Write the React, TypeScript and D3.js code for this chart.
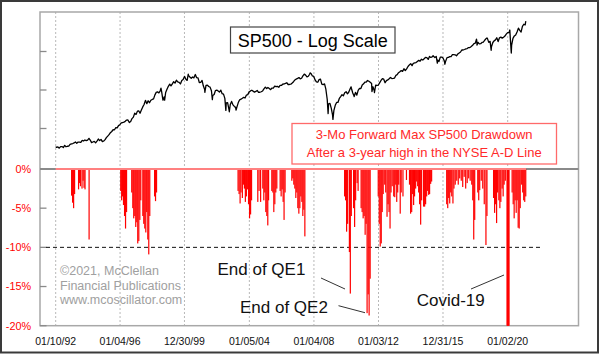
import { useEffect, useRef } from 'react';
import * as d3 from 'd3';

const tickDates = ["1992-01-10", "1996-01-04", "1999-12-30", "2004-01-05", "2008-01-04", "2012-01-03", "2015-12-31", "2020-01-02"];
const pctTicks = [0, -5, -10, -15, -20];
const logTicks = [575, 1150, 2300];

// SP500 month-end closes, Jan 1992 .. Jan 2021
const spxMonthly = [
	408.8, 412.7, 403.7, 414.9, 415.4, 408.1, 424.2, 414.0, 417.8, 418.7, 431.4, 435.7,
	438.8, 443.4, 451.7, 440.2, 450.2, 450.5, 448.1, 463.6, 458.9, 467.8, 461.8, 466.5,
	481.6, 467.1, 445.8, 450.9, 456.5, 444.3, 458.3, 475.5, 462.7, 472.4, 453.7, 459.3,
	470.4, 487.4, 500.7, 514.7, 533.4, 544.8, 562.1, 561.9, 584.4, 581.5, 605.4, 615.9,
	636.0, 640.4, 645.5, 654.2, 669.1, 670.6, 639.9, 652.0, 687.3, 705.3, 757.0, 740.7,
	786.2, 790.8, 757.1, 801.3, 848.3, 885.1, 954.3, 899.5, 947.3, 914.6, 955.4, 970.4,
	980.3, 1049.3, 1101.8, 1111.8, 1090.8, 1133.8, 1120.7, 957.3, 1017.0, 1098.7, 1163.6, 1229.2,
	1279.6, 1238.3, 1286.4, 1335.2, 1301.8, 1372.7, 1328.7, 1320.4, 1282.7, 1362.9, 1388.9, 1469.3,
	1394.5, 1366.4, 1498.6, 1452.4, 1420.6, 1454.6, 1430.8, 1517.7, 1436.5, 1429.4, 1315.2, 1320.3,
	1366.0, 1239.9, 1160.3, 1249.5, 1255.8, 1224.4, 1211.2, 1133.6, 1040.9, 1059.8, 1139.5, 1148.1,
	1130.2, 1106.7, 1147.4, 1076.9, 1067.1, 989.8, 911.6, 916.1, 815.3, 885.8, 936.3, 879.8,
	855.7, 841.2, 848.2, 916.9, 963.6, 974.5, 990.3, 1008.0, 996.0, 1050.7, 1058.2, 1111.9,
	1131.1, 1144.9, 1126.2, 1107.3, 1120.7, 1140.8, 1101.7, 1104.2, 1114.6, 1130.2, 1173.8, 1211.9,
	1181.3, 1203.6, 1180.6, 1156.9, 1191.5, 1191.3, 1234.2, 1220.3, 1228.8, 1207.0, 1249.5, 1248.3,
	1280.1, 1280.7, 1294.9, 1310.6, 1270.1, 1270.2, 1276.7, 1303.8, 1335.9, 1377.9, 1400.6, 1418.3,
	1438.2, 1406.8, 1420.9, 1482.4, 1530.6, 1503.4, 1455.3, 1474.0, 1526.8, 1549.4, 1481.1, 1468.4,
	1378.6, 1330.6, 1322.7, 1385.6, 1400.4, 1280.0, 1267.4, 1282.8, 1166.4, 968.8, 896.2, 903.3,
	825.9, 735.1, 797.9, 872.8, 919.1, 919.3, 987.5, 1020.6, 1057.1, 1036.2, 1095.6, 1115.1,
	1073.9, 1104.5, 1169.4, 1186.7, 1089.4, 1030.7, 1101.6, 1049.3, 1141.2, 1183.3, 1180.6, 1257.6,
	1286.1, 1327.2, 1325.8, 1363.6, 1345.2, 1320.6, 1292.3, 1218.9, 1131.4, 1253.3, 1247.0, 1257.6,
	1312.4, 1365.7, 1408.5, 1397.9, 1310.3, 1362.2, 1379.3, 1406.6, 1440.7, 1412.2, 1416.2, 1426.2,
	1498.1, 1514.7, 1569.2, 1597.6, 1630.7, 1606.3, 1685.7, 1633.0, 1681.6, 1756.5, 1805.8, 1848.4,
	1782.6, 1859.5, 1872.3, 1883.9, 1923.6, 1960.2, 1930.7, 2003.4, 1972.3, 2018.1, 2067.6, 2058.9,
	1995.0, 2104.5, 2067.9, 2085.5, 2107.4, 2063.1, 2103.8, 1972.2, 1920.0, 2079.4, 2080.4, 2043.9,
	1940.2, 1932.2, 2059.7, 2065.3, 2096.9, 2098.9, 2173.6, 2171.0, 2168.3, 2126.2, 2198.8, 2238.8,
	2278.9, 2363.6, 2362.7, 2384.2, 2411.8, 2423.4, 2470.3, 2471.7, 2519.4, 2575.3, 2647.6, 2673.6,
	2823.8, 2713.8, 2640.9, 2648.1, 2705.3, 2718.4, 2816.3, 2901.5, 2914.0, 2711.7, 2760.2, 2506.9,
	2704.1, 2784.5, 2834.4, 2945.8, 2752.1, 2941.8, 2980.4, 2926.5, 2976.7, 3037.6, 3141.0, 3230.8,
	3225.5, 2954.2, 2584.6, 2912.4, 3044.3, 3100.3, 3271.1, 3500.3, 3363.0, 3270.0, 3621.6, 3756.1,
	3714.2,
];

// intra-month highs and lows visible on the line
const spxExtra: [string, number][] = [
	["1992-01-10", 415], ["1998-07-17", 1187], ["1998-10-08", 959], ["2000-03-24", 1527],
	["2000-09-01", 1520], ["2001-04-04", 1103], ["2001-09-21", 966], ["2002-07-23", 797],
	["2002-10-09", 777], ["2003-03-11", 800], ["2007-10-09", 1565], ["2008-11-20", 752],
	["2009-03-09", 677], ["2010-04-23", 1217], ["2010-07-02", 1022], ["2011-04-29", 1364],
	["2011-08-08", 1119], ["2011-10-03", 1099], ["2015-05-21", 2131], ["2015-08-25", 1867],
	["2016-02-11", 1829], ["2018-01-26", 2873], ["2018-02-08", 2581], ["2018-09-20", 2931],
	["2018-12-24", 2351], ["2020-02-19", 3386], ["2020-03-23", 2237], ["2021-02-12", 3934],
	["2021-02-19", 3906],
];

// 3-month forward max drawdown (%) after NYSE A-D line 3-year highs
const drawdowns: [string, number][] = [
	["1993-01-04", -3.4], ["1993-01-26", -4.3], ["1993-02-18", -5.0], ["1993-03-12", -3.2],
	["1993-06-10", -2.6], ["1993-07-01", -1.8], ["1993-07-23", -2.2], ["1993-08-27", -2.5],
	["1993-09-20", -1.5], ["1993-10-12", -2.4], ["1993-11-03", -2.6], ["1994-02-03", -9.0],
	["1996-01-19", -2.8], ["1996-02-09", -4.0], ["1996-03-01", -3.5], ["1996-03-22", -4.6],
	["1996-04-15", -6.0], ["1996-05-07", -7.6], ["1996-05-30", -5.5],
	["1996-09-24", -3.0], ["1996-10-18", -5.0], ["1996-11-08", -6.3], ["1996-12-02", -6.0],
	["1996-12-24", -7.4], ["1997-01-16", -6.8], ["1997-02-07", -9.5], ["1997-03-03", -9.2],
	["1997-03-26", -6.5], ["1997-04-17", -4.0],
	["1997-06-02", -6.0], ["1997-06-23", -7.0], ["1997-07-16", -7.6], ["1997-08-08", -8.1],
	["1997-08-29", -5.5], ["1997-09-22", -9.0], ["1997-10-14", -10.9], ["1997-11-06", -6.0],
	["1998-02-23", -3.5], ["1998-03-16", -4.1], ["1998-04-08", -3.0],
	["2003-04-25", -2.8], ["2003-05-18", -3.2], ["2003-06-10", -4.4], ["2003-07-01", -3.0],
	["2003-07-31", -3.7], ["2003-08-23", -2.0], ["2003-09-15", -2.5], ["2003-10-07", -4.2],
	["2003-10-30", -3.5], ["2003-11-21", -2.6], ["2003-12-18", -4.5], ["2004-01-10", -6.3],
	["2004-02-02", -5.8], ["2004-02-24", -4.0],
	["2004-07-14", -4.2], ["2004-08-12", -2.8], ["2004-09-16", -4.2],
	["2004-11-04", -2.5], ["2004-11-27", -4.0], ["2004-12-19", -3.0], ["2005-01-11", -5.5],
	["2005-02-03", -6.0], ["2005-02-25", -7.2], ["2005-03-15", -4.0],
	["2005-05-27", -2.8], ["2005-06-19", -3.0], ["2005-07-11", -5.5], ["2005-08-03", -4.5],
	["2005-08-25", -3.0], ["2005-09-17", -2.5],
	["2005-12-01", -2.8], ["2005-12-24", -3.5], ["2006-01-16", -2.6], ["2006-02-07", -4.2],
	["2006-02-28", -6.5], ["2006-03-23", -3.0],
	["2006-08-22", -1.5], ["2006-09-14", -1.2], ["2006-10-06", -2.0], ["2006-10-29", -2.5],
	["2006-11-21", -3.7], ["2006-12-13", -3.0], ["2007-01-05", -5.0], ["2007-01-28", -5.7],
	["2007-02-20", -5.0], ["2007-03-14", -3.5], ["2007-04-06", -4.2], ["2007-04-28", -6.0],
	["2007-05-21", -5.2], ["2007-06-13", -8.6],
	["2009-11-28", -3.5], ["2009-12-20", -4.0], ["2010-01-12", -8.0], ["2010-02-04", -7.0],
	["2010-03-16", -10.6], ["2010-04-06", -15.9], ["2010-04-28", -6.0],
	["2010-06-19", -5.0], ["2010-07-12", -7.4], ["2010-08-04", -4.0], ["2010-09-07", -1.8],
	["2010-09-29", -2.8],
	["2010-12-06", -5.0], ["2010-12-29", -5.5], ["2011-01-21", -6.3], ["2011-02-12", -6.0],
	["2011-03-07", -8.4], ["2011-03-29", -7.0], ["2011-04-20", -18.4], ["2011-05-14", -16.0],
	["2011-06-05", -18.7], ["2011-06-28", -14.0],
	["2011-12-28", -3.5], ["2012-01-20", -7.0], ["2012-02-11", -9.9], ["2012-03-05", -9.5],
	["2012-03-27", -5.5], ["2012-04-18", -3.2], ["2012-05-23", -2.0], ["2012-06-15", -3.0],
	["2012-07-14", -6.1], ["2012-08-06", -4.5], ["2012-08-28", -5.5], ["2012-09-20", -7.6],
	["2012-10-12", -3.0], ["2012-11-08", -2.2], ["2012-12-12", -3.5], ["2013-01-04", -3.6],
	["2013-01-27", -2.0], ["2013-02-18", -4.2], ["2013-03-12", -3.0], ["2013-04-04", -2.0],
	["2013-05-08", -5.7], ["2013-05-30", -3.0], ["2013-07-09", -3.5], ["2013-09-26", -1.4],
	["2013-12-04", -2.0], ["2013-12-29", -5.7], ["2014-01-22", -5.5], ["2014-02-13", -3.2],
	["2014-03-07", -4.6], ["2014-03-28", -3.5], ["2014-04-22", -2.5], ["2014-05-15", -1.6],
	["2014-06-07", -2.2], ["2014-06-29", -3.0], ["2014-07-20", -4.5], ["2014-08-13", -7.1],
	["2014-09-04", -4.0], ["2014-10-19", -4.8], ["2014-11-11", -4.8], ["2014-12-03", -4.5],
	["2014-12-27", -3.5], ["2015-01-18", -2.8], ["2015-02-10", -3.3], ["2015-03-03", -3.2],
	["2015-03-27", -1.9], ["2015-04-18", -1.6],
	["2016-03-24", -4.5], ["2016-04-16", -5.0], ["2016-05-08", -3.7], ["2016-05-31", -4.4],
	["2016-06-23", -3.0], ["2016-07-16", -3.5], ["2016-08-12", -4.4], ["2016-09-04", -2.5],
	["2016-10-03", -2.0], ["2016-11-06", -1.5], ["2016-12-10", -2.0], ["2017-01-12", -1.2],
	["2017-02-16", -1.5], ["2017-03-21", -2.3], ["2017-04-23", -1.0], ["2017-05-27", -2.5],
	["2017-06-30", -1.8], ["2017-08-03", -1.2], ["2017-09-06", -1.5], ["2017-10-11", -2.0],
	["2017-11-03", -4.0], ["2017-11-25", -9.0], ["2017-12-17", -6.5],
	["2018-02-24", -3.0], ["2018-03-18", -4.0], ["2018-04-09", -2.7], ["2018-05-14", -1.5],
	["2018-06-17", -2.5], ["2018-07-21", -4.5], ["2018-08-28", -9.7], ["2018-09-20", -6.0],
	["2019-02-17", -3.7], ["2019-03-12", -5.6], ["2019-04-04", -4.5], ["2019-04-26", -6.9],
	["2019-05-19", -3.0], ["2019-06-16", -4.0], ["2019-07-09", -5.0], ["2019-07-31", -4.2],
	["2019-08-29", -2.5], ["2019-09-21", -3.5], ["2019-10-13", -2.0], ["2019-11-09", -1.5],
	["2019-12-18", -33.9], ["2019-12-30", -33.9], ["2020-01-10", -33.9], ["2020-01-21", -33.9],
	["2020-01-31", -33.9],
	["2020-04-11", -3.0], ["2020-05-05", -4.5], ["2020-05-27", -6.3], ["2020-06-19", -4.0],
	["2020-07-12", -5.6], ["2020-08-03", -4.0], ["2020-08-26", -7.5], ["2020-09-18", -7.6],
	["2020-10-11", -5.0], ["2020-11-13", -2.0], ["2020-12-06", -3.0], ["2020-12-29", -4.0],
	["2021-01-21", -4.2], ["2021-02-13", -3.5],
];

const seriesStart = "1992-01-10";
const seriesEnd = "2021-02-19";

const font = "'Liberation Sans', Arial, sans-serif";

export default function App() {
	const ref = useRef<SVGSVGElement>(null);

	useEffect(() => {
		const svg = d3.select(ref.current);
		svg.selectAll("*").remove();

		const parse = d3.timeParse("%Y-%m-%d");
		const fmt = d3.timeFormat("%m/%d/%y");
		const left = 40, right = 578.5, top = 12, bottom = 325.7;

		const x = d3.scaleTime()
			// @ts-ignore
			.domain([parse(tickDates[0]), parse(tickDates[tickDates.length - 1])])
			.range([55.7, 507.7]);

		const yLog = d3.scaleLog()
			.domain([logTicks[0], logTicks[2]])
			.range([128.5, 51.5]);

		const yPct = d3.scaleLinear()
			.domain([-20, 0])
			.range([bottom, 169])
			.clamp(true);

		const spx = spxMonthly.map((v, i) => ({
			date: d3.timeDay.offset(new Date(1992, i + 1, 1), -1),
			value: v
		}));
		// @ts-ignore
		spxExtra.forEach(d => spx.push({date: parse(d[0]), value: d[1]}));
		spx.sort((a, b) => +a.date - +b.date);

		// outer frame
		svg.append("rect")
			.attr("x", 1).attr("y", 1)
			.attr("width", 597).attr("height", 351.5)
			.attr("fill", "#fff")
			.attr("stroke", "#3a3a3a")
			.attr("stroke-width", 2);

		// grid
		svg.append("g")
			.selectAll("line")
			.data(tickDates)
			.join("line")
			// @ts-ignore
			.attr("x1", d => x(parse(d)))
			// @ts-ignore
			.attr("x2", d => x(parse(d)))
			.attr("y1", top)
			.attr("y2", bottom)
			.attr("stroke", "#b8b8b8")
			.attr("stroke-dasharray", "2,2");

		// plot frame
		svg.append("rect")
			.attr("x", left).attr("y", top)
			.attr("width", right - left).attr("height", bottom - top)
			.attr("fill", "none")
			.attr("stroke", "#a8a8a8")
			.attr("stroke-width", 1.5);

		svg.append("line")
			.attr("x1", left).attr("x2", right)
			.attr("y1", yPct(0)).attr("y2", yPct(0))
			.attr("stroke", "#8a8a8a")
			.attr("stroke-width", 2);

		// y ticks (inside)
		svg.append("g")
			.selectAll("line")
			.data(pctTicks)
			.join("line")
			.attr("x1", left).attr("x2", left + 6.5)
			.attr("y1", d => yPct(d)).attr("y2", d => yPct(d))
			.attr("stroke", "#8a8a8a")
			.attr("stroke-width", 1.3);

		svg.append("g")
			.selectAll("line")
			.data(logTicks)
			.join("line")
			.attr("x1", left).attr("x2", left + 6.5)
			.attr("y1", d => yLog(d)).attr("y2", d => yLog(d))
			.attr("stroke", "#8a8a8a")
			.attr("stroke-width", 1.3);

		svg.append("g")
			.selectAll("text")
			.data(pctTicks)
			.join("text")
			.attr("x", 31)
			.attr("y", d => yPct(d))
			.attr("dy", "0.36em")
			.attr("text-anchor", "end")
			.attr("font-family", font)
			.attr("font-size", 10.8)
			.attr("fill", "#ff0000")
			.text(d => d + "%");

		svg.append("g")
			.selectAll("text")
			.data(tickDates)
			.join("text")
			// @ts-ignore
			.attr("x", d => x(parse(d)))
			.attr("y", 345)
			.attr("text-anchor", "middle")
			.attr("font-family", font)
			.attr("font-size", 10.5)
			.attr("fill", "#111")
			// @ts-ignore
			.text(d => fmt(parse(d)));

		// -10% reference line
		svg.append("line")
			.attr("x1", 46).attr("x2", 543)
			.attr("y1", yPct(-10)).attr("y2", yPct(-10))
			.attr("stroke", "#111")
			.attr("stroke-dasharray", "4,3");

		// drawdown bars
		svg.append("g")
			.attr("fill", "#ff0000")
			.selectAll("rect")
			.data(drawdowns)
			.join("rect")
			// @ts-ignore
			.attr("x", d => x(parse(d[0])) - 0.6)
			.attr("y", yPct(0))
			.attr("width", 1.2)
			.attr("height", d => yPct(d[1]) - yPct(0));

		svg.append("line")
			// @ts-ignore
			.attr("x1", x(parse(seriesStart)))
			// @ts-ignore
			.attr("x2", x(parse(seriesEnd)))
			.attr("y1", yPct(0)).attr("y2", yPct(0))
			.attr("stroke", "#ff8080")
			.attr("stroke-width", 2);

		// SP500 line
		const line = d3.line()
			// @ts-ignore
			.x(d => x(d.date))
			// @ts-ignore
			.y(d => yLog(d.value));

		svg.append("path")
			// @ts-ignore
			.attr("d", line(spx))
			.attr("fill", "none")
			.attr("stroke", "#000")
			.attr("stroke-width", 1.3)
			.attr("stroke-linejoin", "round");

		// title box
		svg.append("rect")
			.attr("x", 230.5).attr("y", 27)
			.attr("width", 164.5).attr("height", 26)
			.attr("fill", "#fff")
			.attr("stroke", "#444")
			.attr("stroke-width", 1.2);
		svg.append("text")
			.attr("x", 312.7).attr("y", 46.5)
			.attr("text-anchor", "middle")
			.attr("font-family", font)
			.attr("font-size", 18)
			.text("SP500 - Log Scale");

		// red legend box
		svg.append("rect")
			.attr("x", 292).attr("y", 123.5)
			.attr("width", 264.5).attr("height", 40.5)
			.attr("fill", "#fff")
			.attr("stroke", "#ff6a6a")
			.attr("stroke-width", 1.3);
		svg.append("g")
			.selectAll("text")
			.data(["3-Mo Forward Max SP500 Drawdown", "After a 3-year high in the NYSE A-D Line"])
			.join("text")
			.attr("x", 424.2)
			.attr("y", (d, i) => 138.8 + i * 18.2)
			.attr("text-anchor", "middle")
			.attr("font-family", font)
			.attr("font-size", 13)
			.attr("fill", "#ff2a2a")
			.text(d => d);

		// copyright
		svg.append("g")
			.selectAll("text")
			.data(["\u00a92021, McClellan", "Financial Publications", "www.mcoscillator.com"])
			.join("text")
			.attr("x", 60)
			.attr("y", (d, i) => 275 + i * 14.6)
			.attr("font-family", font)
			.attr("font-size", 12.5)
			.attr("fill", "#a0a0a0")
			.text(d => d);

		// annotations
		const notes = [
			{text: "End of QE1", x: 217.5, y: 275, lx1: 321, ly1: 278, lx2: 345, ly2: 289},
			{text: "End of QE2", x: 240, y: 313, lx1: 338.5, ly1: 305.7, lx2: 365, ly2: 312.7},
			{text: "Covid-19", x: 416.7, y: 305.7, lx1: 471, ly1: 289, lx2: 504, ly2: 275},
		];
		notes.forEach(n => {
			svg.append("text")
				.attr("x", n.x).attr("y", n.y)
				.attr("font-family", font)
				.attr("font-size", 17)
				.attr("fill", "#111")
				.text(n.text);
			svg.append("line")
				.attr("x1", n.lx1).attr("y1", n.ly1)
				.attr("x2", n.lx2).attr("y2", n.ly2)
				.attr("stroke", "#333")
				.attr("stroke-width", 1);
		});
	}, []);

	return <svg ref={ref} width={600} height={354} style={{position: "absolute", left: 0, top: 0}} />;
}
